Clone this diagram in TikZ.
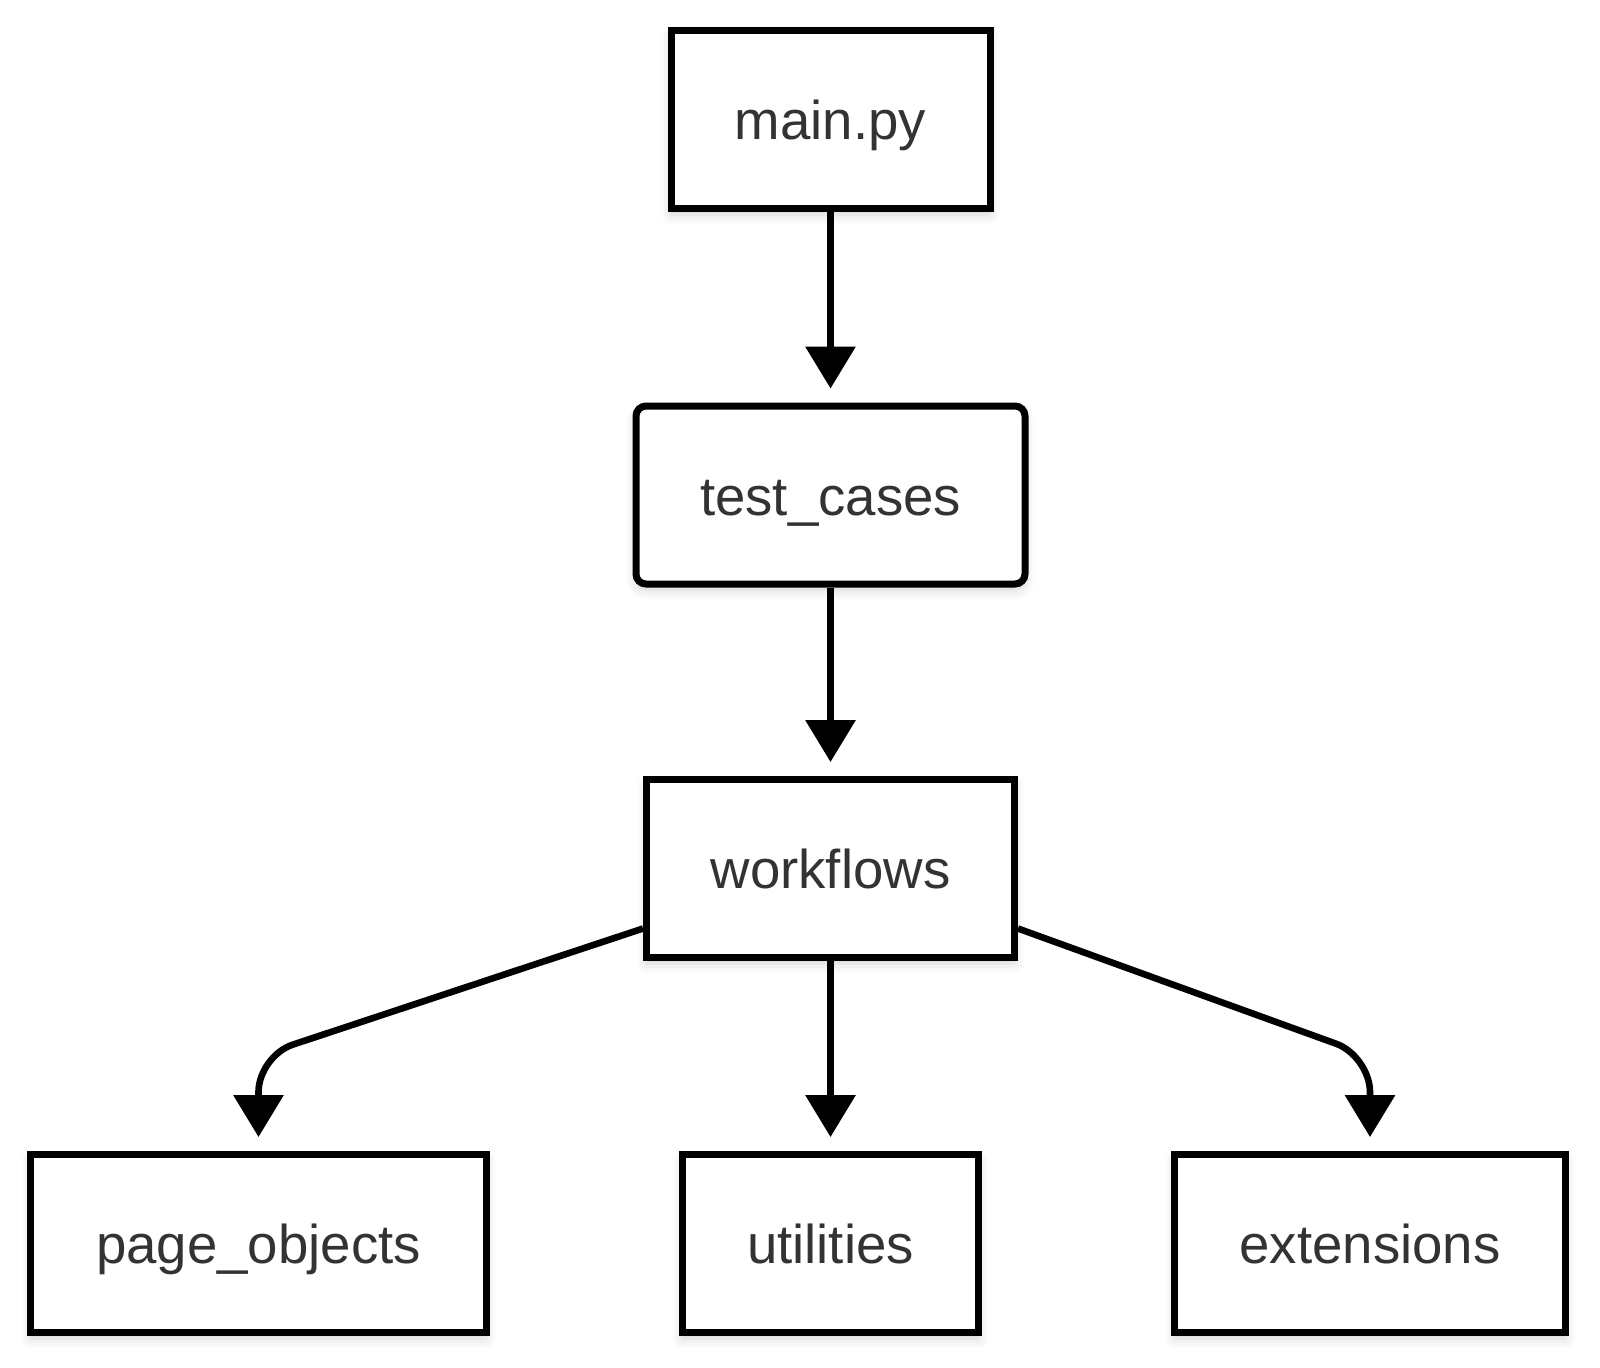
\documentclass[tikz,border=0pt]{standalone}
\usepackage{fontspec}
\setmainfont{Liberation Sans}
\usetikzlibrary{arrows.meta,shadows.blur}
\definecolor{labelgray}{HTML}{333333}
\tikzset{
  module/.style={draw=black, line width=3.5pt, fill=white, text=labelgray,
    font=\fontsize{27.3}{32}\selectfont, inner sep=0pt, minimum height=89pt,
    text height=26pt, text depth=6pt,
    blur shadow={shadow xshift=0pt, shadow yshift=-3pt, shadow blur radius=5pt, shadow opacity=18}},
  link/.style={line width=3.3pt, -{Triangle[width=24.5pt,length=21pt]}, shorten >=7pt},
}
\begin{document}
\begin{tikzpicture}[x=0.5pt,y=-0.5pt]
  \useasboundingbox (0,0) rectangle (1600,1367);
  % boxes, pixel coordinates of the layout
  \node[module, minimum width=159.5pt] (main) at (830.5,119.5) {main.py};
  \node[module, minimum width=194.5pt, rounded corners=5pt] (tests) at (830.5,495) {test\_cases};
  \node[module, minimum width=184pt] (flows) at (830.5,868.5) {workflows};
  \node[module, minimum width=228pt] (pages) at (258.5,1243.5) {page\_objects};
  \node[module, minimum width=148pt] (utils) at (830.5,1243.5) {utilities};
  \node[module, minimum width=195.5pt] (exts) at (1370,1243.5) {extensions};

  \coordinate (bendL) at (258.5,1056);
  \coordinate (bendR) at (1370,1056);

  \draw[link] (main) -- (tests);
  \draw[link] (tests) -- (flows);
  \draw[link] (flows) -- (utils);
  \draw[link, rounded corners=18pt] ([yshift=-30pt]flows.west) -- (bendL) -- (pages.north);
  \draw[link, rounded corners=18pt] ([yshift=-30pt]flows.east) -- (bendR) -- (exts.north);
\end{tikzpicture}
\end{document}
